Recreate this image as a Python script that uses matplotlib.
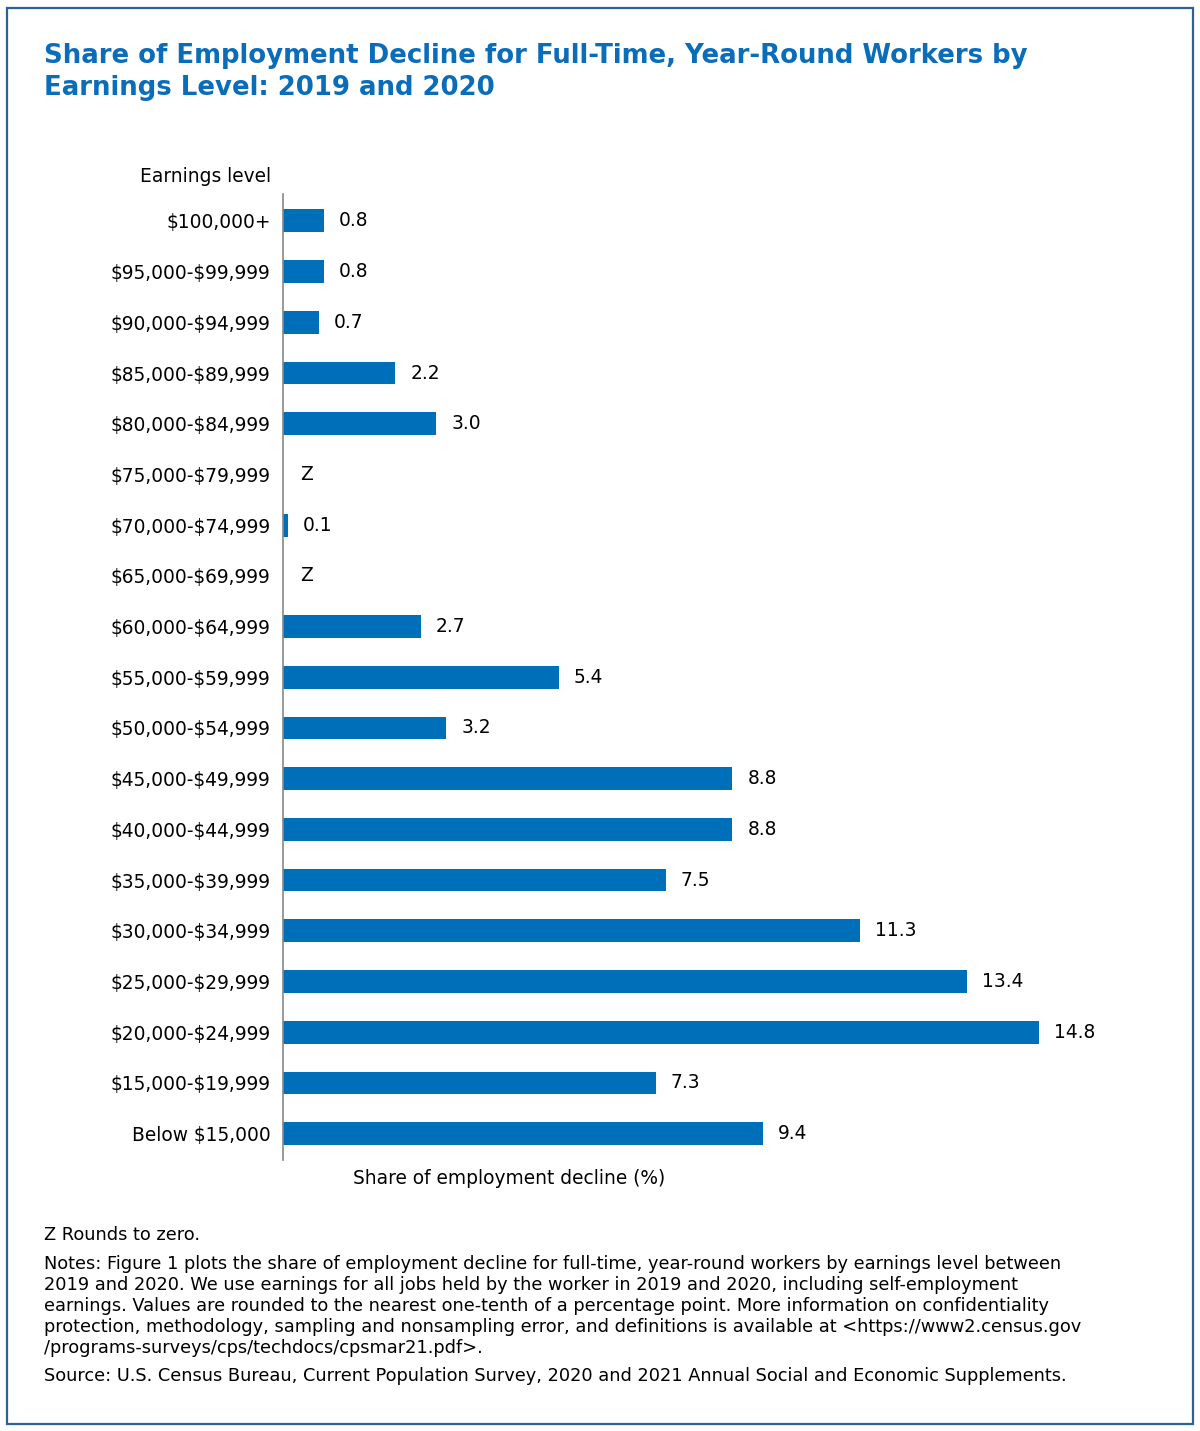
import matplotlib
matplotlib.use("Agg")
import matplotlib.pyplot as plt
from matplotlib.patches import Rectangle

categories = ["$100,000+", "$95,000-$99,999", "$90,000-$94,999", "$85,000-$89,999",
              "$80,000-$84,999", "$75,000-$79,999", "$70,000-$74,999", "$65,000-$69,999",
              "$60,000-$64,999", "$55,000-$59,999", "$50,000-$54,999", "$45,000-$49,999",
              "$40,000-$44,999", "$35,000-$39,999", "$30,000-$34,999", "$25,000-$29,999",
              "$20,000-$24,999", "$15,000-$19,999", "Below $15,000"]
values = [0.8, 0.8, 0.7, 2.2, 3.0, 0.0, 0.1, 0.0, 2.7, 5.4, 3.2, 8.8, 8.8, 7.5,
          11.3, 13.4, 14.8, 7.3, 9.4]
labels = ["0.8", "0.8", "0.7", "2.2", "3.0", "Z", "0.1", "Z", "2.7", "5.4", "3.2",
          "8.8", "8.8", "7.5", "11.3", "13.4", "14.8", "7.3", "9.4"]

plt.rcParams['font.family'] = ['DejaVu Sans']
plt.rcParams['text.parse_math'] = False
plt.rcParams['text.usetex'] = False

W, H = 1200, 1431
fig = plt.figure(figsize=(W / 100, H / 100), dpi=100)

BAR = '#006fba'
TITLE = '#0a6dba'
FRAME = '#2d5f99'
FS = 13.4

# frame
fig.patches.append(Rectangle((7 / W, 1 - 1424 / H), 1186 / W, 1416 / H,
                             transform=fig.transFigure, fill=False,
                             edgecolor=FRAME, linewidth=1.6))

# axes: left 283px, right 1100px, top 194px, bottom 1160px
ax = fig.add_axes([283 / W, 1 - 1160 / H, 817 / W, 966 / H])
ypos = list(range(len(categories)))
ax.barh(ypos, values, height=0.45, color=BAR)
ax.set_xlim(0, 16)
ax.set_ylim(len(categories) - 0.48, -0.53)
ax.set_yticks(ypos)
ax.set_yticklabels(categories, fontsize=FS)
ax.tick_params(axis='y', length=0, pad=9)
ax.set_xticks([])
for s in ['top', 'right', 'bottom']:
    ax.spines[s].set_visible(False)
ax.spines['left'].set_color('#888888')
ax.spines['left'].set_linewidth(1.2)

for y, v, lab in zip(ypos, values, labels):
    ax.annotate(lab, xy=(v, y), xytext=(15 if lab != "Z" else 17, 0),
                textcoords='offset pixels', va='center', ha='left',
                fontsize=FS, color='black')

fig.text(271 / W, 1 - 176 / H, "Earnings level", ha='right', va='center',
         fontsize=FS, color='black')
fig.text(509 / W, 1 - 1178 / H, "Share of employment decline (%)", ha='center',
         va='center', fontsize=FS, color='black')

fig.text(44 / W, 1 - 72 / H,
         "Share of Employment Decline for Full-Time, Year-Round Workers by\nEarnings Level: 2019 and 2020",
         ha='left', va='center', fontsize=18.7, fontweight='bold', color=TITLE,
         linespacing=1.28)
NFS = 12.8
fig.text(44 / W, 1 - 1235 / H, "Z Rounds to zero.", ha='left', va='center',
         fontsize=NFS, color='black')
notes = ("Notes: Figure 1 plots the share of employment decline for full-time, year-round workers by earnings level between\n"
         "2019 and 2020. We use earnings for all jobs held by the worker in 2019 and 2020, including self-employment\n"
         "earnings. Values are rounded to the nearest one-tenth of a percentage point. More information on confidentiality\n"
         "protection, methodology, sampling and nonsampling error, and definitions is available at <https://www2.census.gov\n"
         "/programs-surveys/cps/techdocs/cpsmar21.pdf>.")
fig.text(44 / W, 1 - 1306 / H, notes, ha='left', va='center', fontsize=NFS,
         color='black', linespacing=1.2)
fig.text(44 / W, 1 - 1376 / H,
         "Source: U.S. Census Bureau, Current Population Survey, 2020 and 2021 Annual Social and Economic Supplements.",
         ha='left', va='center', fontsize=NFS, color='black')

fig.savefig("out.png", dpi=100)
